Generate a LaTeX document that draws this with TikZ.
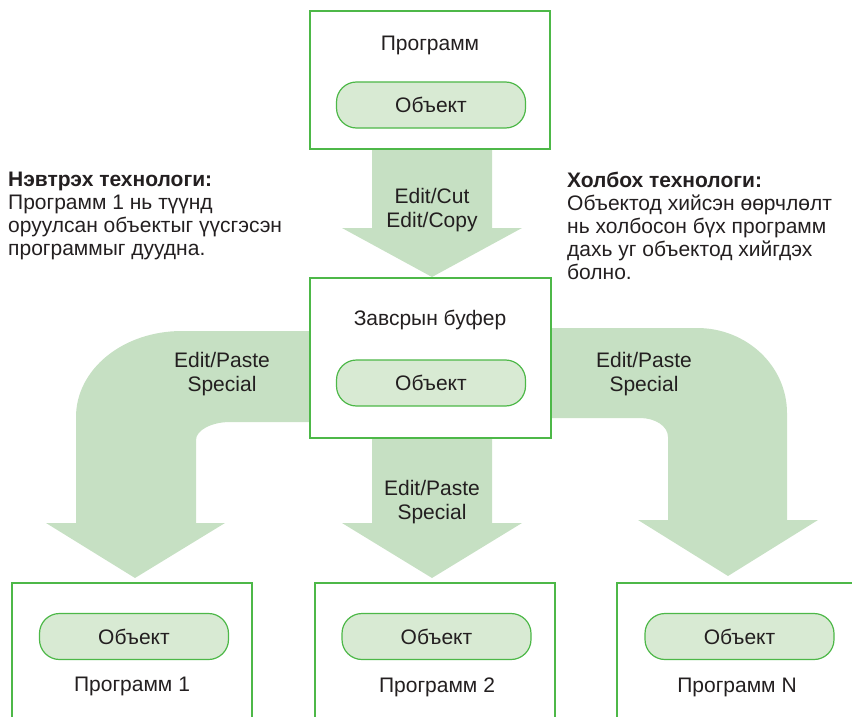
\documentclass[tikz,border=0pt]{standalone}
\usepackage{fontspec}
\setmainfont{Liberation Sans}
\usetikzlibrary{calc,backgrounds}
\definecolor{gborder}{HTML}{4DB848}
\definecolor{pillfill}{HTML}{D8EAD3}
\definecolor{arrowfill}{HTML}{C6E0C3}
\definecolor{txt}{HTML}{231F20}
\begin{document}
\begin{tikzpicture}[x=1pt,y=-1pt,
  every node/.style={text=txt,font=\fontsize{21}{23}\selectfont},
  box/.style={draw=gborder,line width=1.4pt,fill=white,rectangle,inner sep=0pt},
  pill/.style={draw=gborder,line width=1.2pt,fill=pillfill,rounded corners=20pt,minimum width=189pt,minimum height=46pt,inner sep=0pt},
  band/.style={fill=arrowfill,draw=none},
  lbl/.style={align=center,font=\fontsize{21}{24.5}\selectfont},
  side/.style={align=left,anchor=north west,inner sep=0pt}]
\useasboundingbox (0,0) rectangle (852,717);
\clip (0,0) rectangle (852,717);

% boxes
\node[box,minimum width=240pt,minimum height=138pt] (top) at (430,80) {};
\node (topT) at (430,45) {Программ};
\node[pill] (topO) at (431,105) {Объект};

\node[box,minimum width=241pt,minimum height=160pt] (mid) at (430.5,358) {};
\node (midT) at (430,320) {Завсрын буфер};
\node[pill] (midO) at (431,383) {Объект};

\node[box,minimum width=240pt,minimum height=160pt] (b1) at (132,663) {};
\node[pill] (o1) at (134,636.5) {Объект};
\node (p1) at (132,686) {Программ 1};

\node[box,minimum width=240pt,minimum height=160pt] (b2) at (435,663) {};
\node[pill] (o2) at (436.5,636.5) {Объект};
\node (p2) at (437,687) {Программ 2};

\node[box,minimum width=240pt,minimum height=160pt] (b3) at (737,663) {};
\node[pill] (o3) at (739.5,636.5) {Объект};
\node (p3) at (737,687) {Программ N};

% block arrows behind the boxes
\begin{scope}[on background layer]
  % top -> mid
  \fill[band] (372,100) -- (372,228) -- (342,228) -- (432,277) -- (522,228) -- (492,228) -- (492,100) -- cycle;
  % mid -> b2
  \fill[band] (372,400) -- (372,523) -- (342,523) -- (432,578) -- (522,523) -- (492,523) -- (492,400) -- cycle;
  % mid -> b1
  \fill[band] (430,331) -- (182,331) .. controls (122.6,331) and (76,369.5) .. (76,417)
     -- (76,523) -- (46,523) -- (135,578) -- (225,523) -- (196,523) -- (196,440)
     .. controls (196,430) and (212,422) .. (230,422) -- (430,422) -- cycle;
  % mid -> b3
  \fill[band] (430,328) -- (697,328) .. controls (746.7,328) and (787,366) .. (787,413)
     -- (787,520) -- (818,520) -- (728,576) -- (638,520) -- (668,520) -- (668,437)
     .. controls (668,426) and (655,418) .. (640,418) -- (430,418) -- cycle;
\end{scope}

% arrow labels
\node[lbl] (lcut) at (432,210) {Edit/Cut\\Edit/Copy};
\node[lbl] (lps1) at (222,374) {Edit/Paste\\Special};
\node[lbl] (lps3) at (644,374) {Edit/Paste\\Special};
\node[lbl] (lps2) at (432,502) {Edit/Paste\\Special};

% side texts
\node[side] (ltxt) at (8,172) {\textbf{Нэвтрэх технологи:}\\Программ 1 нь түүнд\\оруулсан объектыг үүсгэсэн\\программыг дуудна.};
\node[side] (rtxt) at (567,172) {\textbf{Холбох технологи:}\\Объектод хийсэн өөрчлөлт\\нь холбосон бүх программ\\дахь уг объектод хийгдэх\\болно.};
\end{tikzpicture}
\end{document}
